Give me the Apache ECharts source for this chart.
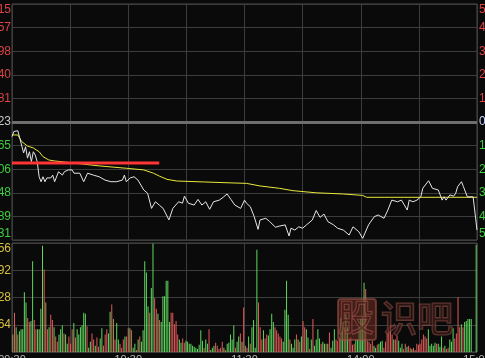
<!DOCTYPE html>
<html><head><meta charset="utf-8">
<script src="https://cdn.jsdelivr.net/npm/echarts@6/dist/echarts.min.js"></script>
<style>html,body{margin:0;padding:0;background:#0a0a0a;overflow:hidden}#c{width:485px;height:358px;}</style>
</head><body><div id="c"></div>
<script>
// price line: minute index and % change vs previous close
const priceMinutes = [0,1,2,3,4,6,7,8,9,10,11,12,13,14,15,16,17,18,20,21,22,24,26,27,29,31,32,35,37,39,40,42,45,48,51,54,57,58,59,61,63,65,68,70,72,74,76,78,81,83,86,88,89,91,94,96,98,100,102,104,107,109,111,113,115,118,120,121,123,125,127,128,131,133,136,138,141,143,144,146,148,150,152,155,157,159,161,163,166,168,171,174,176,179,181,184,187,189,192,194,196,199,201,204,205,207,209,211,212,215,217,220,222,223,224,226,228,229,230,232,233,235,236,238,239,240];
const pricePct = [-0.62,-0.40,-0.47,-0.37,-0.68,-1.31,-1.05,-1.53,-1.26,-1.68,-1.26,-1.40,-1.68,-2.32,-2.53,-2.32,-2.53,-2.37,-2.37,-2.25,-2.53,-2.11,-2.25,-2.11,-2.03,-2.03,-2.17,-2.17,-2.53,-2.17,-2.11,-2.25,-2.32,-2.46,-2.53,-2.53,-2.46,-2.25,-2.53,-2.37,-2.32,-2.46,-2.88,-3.02,-3.66,-3.38,-3.52,-3.66,-4.15,-3.66,-3.38,-3.44,-3.14,-3.44,-3.52,-3.28,-3.52,-3.38,-3.70,-3.38,-3.31,-3.19,-3.05,-3.28,-3.52,-3.66,-3.31,-3.44,-3.59,-4.01,-4.55,-4.15,-4.08,-4.22,-4.46,-4.41,-4.36,-4.83,-4.50,-4.58,-4.44,-4.50,-4.36,-4.15,-3.75,-4.04,-3.90,-4.22,-4.36,-4.50,-4.58,-4.79,-4.44,-4.65,-4.93,-4.36,-4.01,-3.94,-4.08,-3.73,-3.31,-3.38,-3.31,-3.73,-3.31,-3.38,-3.31,-3.17,-2.81,-2.49,-2.81,-2.88,-3.31,-3.17,-3.31,-3.09,-3.14,-3.02,-2.74,-2.53,-2.74,-3.17,-3.09,-3.17,-3.23,-4.58];
// average price line
const avgMinutes = [0,3,5,8,11,14,16,19,22,33,45,59,68,73,76,80,85,99,113,121,128,138,145,157,171,181,183,240];
const avgPct = [-0.55,-0.55,-0.83,-1.02,-1.10,-1.26,-1.47,-1.61,-1.65,-1.75,-1.86,-1.96,-2.03,-2.17,-2.29,-2.43,-2.50,-2.54,-2.58,-2.60,-2.71,-2.81,-2.91,-3.00,-3.05,-3.11,-3.19,-3.19];
// red drawn level line
const levelMinutes = [0, 76];
const levelPct = [-1.74, -1.74];
// axis tick labels
const leftPriceLabels = ['6.115','6.057','5.998','5.940','5.881','5.823','5.765','5.706','5.648','5.589','5.531'];
const rightPctLabels = ['5.00%','4.00%','3.00%','2.00%','1.00%','0.00%','1.00%','2.00%','3.00%','4.00%','5.00%'];
const timeLabelMinutes = [0, 60, 120, 180, 240];
const timeLabels = ['09:30','10:30','11:30','14:00','15:00'];
const volTicks = [264, 528, 792, 1056];
// volume bars and their colour class (r = up, g = down, t = flat)
const volumes = [170,380,240,170,200,220,220,580,480,330,290,300,880,310,220,220,220,420,1030,800,480,220,240,360,310,240,150,100,170,220,260,180,170,80,150,80,220,280,140,220,170,240,260,380,370,250,40,100,180,120,60,140,50,130,230,60,170,220,180,390,460,320,120,280,120,80,40,120,150,150,230,230,210,40,80,20,120,150,100,210,880,770,440,380,620,1050,520,420,370,310,290,540,540,690,690,290,380,380,270,300,170,120,90,130,90,110,100,80,80,60,50,40,30,70,
210,110,40,120,80,220,20,40,60,90,60,30,40,100,40,20,80,90,170,120,260,40,100,150,180,100,430,60,40,150,80,240,310,40,990,480,240,120,210,130,170,160,220,370,290,240,210,180,150,130,100,410,690,360,120,80,40,120,170,120,100,150,300,240,220,140,30,120,320,60,120,220,130,80,100,80,80,80,
190,40,110,220,120,110,140,330,290,240,370,240,130,140,70,80,120,120,240,320,340,670,610,110,100,80,110,60,40,70,80,100,110,40,100,190,240,260,170,120,120,160,110,40,80,30,80,50,60,40,30,40,20,80,70,80,120,170,150,130,220,60,80,60,90,80,80,50,150,40,60,30,40,120,100,230,130,180,530,240,270,240,290,300,320,320,320,0,0,1040];
const volDir = ['t','r','g','r','g','g','g','g','g','r','r','g','g','r','r','g','g','g','g','r','t','r','g','r','r','g','r','r','g','g','g','r','g','g','r','r','r','g','r','g','g','g','g','g','g','r','g','g','r','r','g','r','r','g','g','r','r','r','g','g','r','t','r','g','g','r','r','r','g','r','r','g','r','g','g','r','g','r','g','g','g','g','g','r','g','g','r','r','g','r','g','g','g','g','g','g','r','r','r','r','r','g','g','r','r','g','g','g','g','g','g','g','g','g',
'g','g','r','g','g','r','g','g','g','r','r','r','r','r','g','r','g','g','g','g','g','r','g','g','r','g','r','t','r','g','r','g','g','g','g','r','r','r','g','r','r','g','g','g','g','r','r','r','r','r','g','g','g','g','r','g','g','g','r','g','r','g','r','r','g','g','r','g','r','g','g','g','g','r','g','g','r','g',
'r','g','g','g','r','r','r','g','g','r','g','g','r','r','r','r','g','g','g','g','g','g','r','r','r','r','r','g','g','r','g','g','g','r','r','r','r','r','r','g','r','r','g','g','g','r','r','g','r','r','g','r','r','r','r','r','r','r','r','r','g','g','g','g','g','r','g','g','g','r','g','r','r','g','g','g','r','r','r','r','g','r','g','g','g','g','g','g','g','g'];

const dirColor = { r: '#e65a5a', g: '#5fd85f', t: '#a89a5c' };
const volCats = volumes.map((_, i) => String(i));
const volData = volumes.map((v, i) => ({ value: v, itemStyle: { color: dirColor[volDir[i]] } }));
const pair = (xs, ys) => xs.map((x, i) => [x, ys[i]]);

const gridLine = '#3c3c3c';
const font = 'Liberation Sans, Arial, sans-serif';
const chart = echarts.init(document.getElementById('c'), null, { renderer: 'canvas' });
chart.setOption({
  backgroundColor: '#0a0a0a',
  animation: false,
  grid: [
    { left: 12, right: 8, top: 4, height: 236, containLabel: false, outerBoundsMode: 'none', show: true, borderColor: '#4a4a4a', borderWidth: 1 },
    { left: 12, right: 8, top: 243, height: 109, containLabel: false, outerBoundsMode: 'none', show: true, borderColor: '#4a4a4a', borderWidth: 1 }
  ],
  xAxis: [
    { gridIndex: 0, type: 'value', min: 0, max: 240, interval: 30,
      axisLine: { show: false }, axisTick: { show: false }, axisLabel: { show: false },
      splitLine: { show: true, lineStyle: { color: gridLine, width: 1 } } },
    { gridIndex: 1, type: 'value', min: 0, max: 240, interval: 30,
      axisLine: { show: false }, axisTick: { show: false },
      axisLabel: { show: true, margin: 2, fontSize: 11, fontFamily: font, color: '#b8b8b8', hideOverlap: false,
        formatter: v => { const k = timeLabelMinutes.indexOf(Number(v)); return k >= 0 ? timeLabels[k] : ''; } },
      splitLine: { show: true, lineStyle: { color: gridLine, width: 1 } } },
    { gridIndex: 1, type: 'category', data: volCats, boundaryGap: true, show: false }
  ],
  yAxis: [
    { gridIndex: 0, type: 'value', min: -5, max: 5, interval: 1, position: 'left',
      axisLine: { show: false }, axisTick: { show: false },
      axisLabel: { margin: 1, fontSize: 12, fontFamily: font,
        verticalAlignMaxLabel: 'top', verticalAlignMinLabel: 'bottom',
        formatter: v => leftPriceLabels[Math.round(5 - Number(v))],
        color: v => Number(v) > 0 ? '#dd4444' : (Number(v) < 0 ? '#3fcf3f' : '#c8c8c8') },
      splitLine: { show: true, lineStyle: { color: gridLine, width: 1 } } },
    { gridIndex: 0, type: 'value', min: -5, max: 5, interval: 1, position: 'right',
      axisLine: { show: false }, axisTick: { show: false },
      axisLabel: { margin: 2, fontSize: 12, fontFamily: font,
        verticalAlignMaxLabel: 'top', verticalAlignMinLabel: 'bottom',
        formatter: v => rightPctLabels[Math.round(5 - Number(v))],
        color: v => Number(v) > 0 ? '#dd4444' : (Number(v) < 0 ? '#3fcf3f' : '#c8d4ff') },
      splitLine: { show: false } },
    { gridIndex: 1, type: 'value', min: 0, max: 1056, interval: 264, position: 'left',
      axisLine: { show: false }, axisTick: { show: false },
      axisLabel: { margin: 1, fontSize: 12, fontFamily: font, color: '#d8c040',
        verticalAlignMaxLabel: 'top',
        formatter: v => volTicks.indexOf(Number(v)) >= 0 ? String(v) : '' },
      splitLine: { show: true, lineStyle: { color: gridLine, width: 1 } } }
  ],
  series: [
    { type: 'line', xAxisIndex: 0, yAxisIndex: 0, data: pair(avgMinutes, avgPct), showSymbol: false,
      lineStyle: { color: '#e8e83a', width: 1 }, z: 3,
      markLine: { silent: true, symbol: 'none', label: { show: false },
        lineStyle: { color: '#6e6e6e', width: 3, type: 'solid' }, data: [{ yAxis: 0 }] } },
    { type: 'line', xAxisIndex: 0, yAxisIndex: 0, data: pair(priceMinutes, pricePct), showSymbol: false,
      lineStyle: { color: '#e6e6e6', width: 1 }, z: 4 },
    { type: 'line', xAxisIndex: 0, yAxisIndex: 0, data: pair(levelMinutes, levelPct), showSymbol: false,
      lineStyle: { color: '#ff3535', width: 3 }, z: 5 },
    { type: 'bar', xAxisIndex: 2, yAxisIndex: 2, data: volData, barWidth: 1, z: 2 }
  ],
  graphic: [
    { type: 'rect', left: 337, top: 298, shape: { width: 38, height: 41, r: 3 }, z: 50,
      style: { fill: 'rgba(115,45,35,0.55)', stroke: 'rgba(160,85,75,0.55)', lineWidth: 2 } },
    { type: 'text', left: 337, top: 299, z: 51,
      style: { text: '股', font: '36px "Noto Sans CJK SC"', fill: 'rgba(40,10,8,0.35)', stroke: 'rgba(170,95,85,0.6)', lineWidth: 1.5 } },
    { type: 'text', left: 380, top: 299, z: 51,
      style: { text: '识吧', font: '36px "Noto Sans CJK SC"', fill: 'rgba(20,5,5,0.35)', stroke: 'rgba(150,80,70,0.6)', lineWidth: 2 } }
  ]
});
</script></body></html>
